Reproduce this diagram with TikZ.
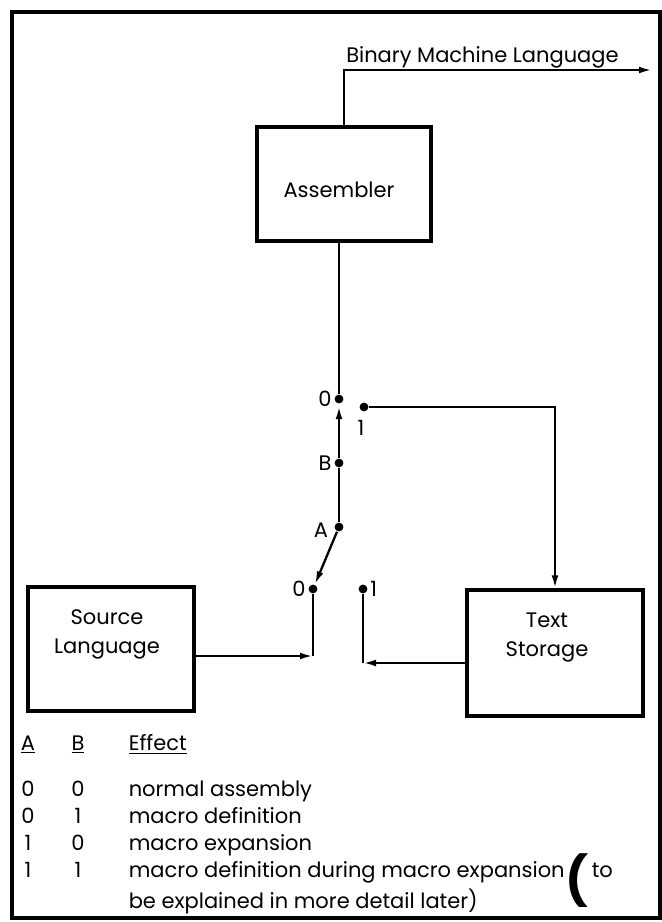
\documentclass[tikz,border=0pt]{standalone}
\usepackage{fontspec}
\setmainfont{Poppins}
\usetikzlibrary{arrows.meta}

\tikzset{every picture/.style={line width=0.75pt}}
\tikzset{
  blockbox/.style={draw,line width=1.6pt,inner sep=0pt},
  contact/.style={circle,fill,inner sep=0pt,minimum size=4.4pt},
  wire/.style={line width=1.15pt},
  flow/.style={line width=1.15pt,-{Latex[length=6.5pt,width=3.4pt]}},
  lbl/.style={inner sep=0.75pt,font=\fontsize{10.5}{14.5}\selectfont},
  tablbl/.style={lbl,inner sep=0pt},
}

\begin{document}
\begin{tikzpicture}[x=0.5pt,y=0.5pt,yscale=-1,xscale=1]
\useasboundingbox (0,0) rectangle (661,922);

%Shape: Frame
\draw [line width=2pt] (12,12) rectangle (660,918);

%Shape: Blocks
\node [blockbox,minimum width=87pt,minimum height=57pt] (asm) at (344,184) {};
\node [blockbox,minimum width=83pt,minimum height=62pt] (src) at (111,649) {};
\node [blockbox,minimum width=88pt,minimum height=63pt] (ts) at (555,653) {};
% Text Node
\node [lbl] (asmtext) at (339,190) {Assembler};
% Text Node
\node [lbl,align=center] (srctext) at (107,634) {Source\\Language};
% Text Node
\node [lbl,align=center] (tstext) at (547,638) {Text\\Storage};

%Shape: Switch contacts
\node [contact] (swBzero) at (339,399) {};
\node [contact] (swBone) at (364,407) {};
\node [contact] (swB) at (339,463) {};
\node [contact] (swA) at (339,527) {};
\node [contact] (swAzero) at (313,589) {};
\node [contact] (swAone) at (363,589) {};
% Text Node
\node [lbl,anchor=east] (lBzero) at (swBzero.west) {0};
\node [lbl] (lBone) at (361,428) {1};
\node [lbl,anchor=east] (lB) at (swB.west) {B};
\node [lbl] (lA) at (321,530) {A};
\node [lbl,anchor=east] (lAzero) at (swAzero.west) {0};
\node [lbl,anchor=west] (lAone) at (swAone.east) {1};

%Straight Lines: switch levers
\draw [wire] (asm.south -| swBzero) -- (swBzero);
\draw [flow,shorten >=1pt] (swB) -- (swBzero);
\draw [wire] (swA) -- (swB);
\draw [flow] (swA) -- (swAzero);

%Straight Lines: source into switch A
\coordinate (srcout) at ([yshift=3.5pt]src.east);
\draw [flow] (srcout) -- (srcout -| swAzero);
\draw [wire] (srcout -| swAzero) -- (swAzero);

%Straight Lines: text storage loop
\draw [flow] (swBone) -| (ts.north);
\coordinate (tsout) at ([yshift=5pt]ts.west);
\draw [flow] (tsout) -- (tsout -| swAone);
\draw [wire] (tsout -| swAone) -- (swAone);

%Straight Lines: output
\coordinate (outend) at (652,70);
\draw [flow] (asm.north) |- (outend);
% Text Node
\node [lbl,anchor=base west] (bml) at (344,62) {Binary Machine Language};

% Text Node: table
\node [tablbl,anchor=base] (hA) at (28,750) {\underline{A}};
\node [tablbl,anchor=base] (hB) at (78,750) {\underline{B}};
\node [tablbl,anchor=base west] (hEffect) at (128,750) {\underline{Effect}};
\node [tablbl,anchor=base] (rowoneA) at (28,796) {0};
\node [tablbl,anchor=base] (rowoneB) at (78,796) {0};
\node [tablbl,anchor=base west] (rowone) at (128,796) {normal assembly};
\node [tablbl,anchor=base] (rowtwoA) at (28,823) {0};
\node [tablbl,anchor=base] (rowtwoB) at (78,823) {1};
\node [tablbl,anchor=base west] (rowtwo) at (128,823) {macro definition};
\node [tablbl,anchor=base] (rowthreeA) at (28,850) {1};
\node [tablbl,anchor=base] (rowthreeB) at (78,850) {0};
\node [tablbl,anchor=base west] (rowthree) at (128,850) {macro expansion};
\node [tablbl,anchor=base] (rowfourA) at (28,877) {1};
\node [tablbl,anchor=base] (rowfourB) at (78,877) {1};
\node [tablbl,anchor=base west] (rowfour) at (128,877) {macro definition during macro expansion};
\node [inner sep=0pt,font=\fontsize{24}{24}\selectfont\bfseries] (paren) at (577,881) {(};
\node [tablbl,anchor=base west] (rowfourto) at (591,877) {to};
\node [tablbl,anchor=base west] (rowfive) at (128,908) {be explained in more detail later)};

\end{tikzpicture}
\end{document}
